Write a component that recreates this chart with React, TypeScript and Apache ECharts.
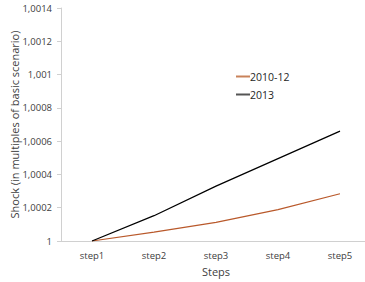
import React, { useEffect, useRef } from "react";
import * as echarts from "echarts";

const categories = ["step1", "step2", "step3", "step4", "step5"];
const series2010 = [1, 1.000054, 1.000112, 1.000188, 1.000284];
const series2013 = [1, 1.000152, 1.00033, 1.000495, 1.00066];
const seriesNames = ["2010-12", "2013"];

const FONT = "'Open Sans', 'Noto Sans', sans-serif";

function fmt(v: number): string {
  const r = Math.round(v * 10000) / 10000;
  return String(r).replace(".", ",");
}

export default function App() {
  const ref = useRef<HTMLDivElement>(null);
  useEffect(() => {
    if (!ref.current) return;
    const chart = echarts.init(ref.current, undefined, { renderer: "svg" });
    chart.setOption({
      animation: false,
      backgroundColor: "#ffffff",
      grid: { left: 61, right: -6, top: 8, bottom: 41, containLabel: false, outerBoundsMode: "none" },
      legend: {
        orient: "vertical",
        left: 231,
        top: 66,
        itemWidth: 14,
        itemHeight: 10,
        itemGap: 7,
        icon: "path://M0,4 L14,4 L14,6 L0,6 Z",
        textStyle: { fontFamily: FONT, fontSize: 10.5, color: "#262626", padding: [0, 0, 0, -5] },
        data: seriesNames,
      },
      xAxis: {
        type: "category",
        data: categories,
        boundaryGap: true,
        name: "Steps",
        nameLocation: "middle",
        nameGap: 25,
        nameMoveOverlap: false,
        nameTextStyle: { fontFamily: FONT, fontSize: 11, color: "#404040" },
        axisLine: { lineStyle: { color: "#d0d0d0", width: 1 } },
        axisTick: { show: false },
        axisLabel: { fontFamily: FONT, fontSize: 9.5, color: "#404040", margin: 9 },
        splitLine: { show: false },
      },
      yAxis: {
        type: "value",
        min: 1,
        max: 1.0014,
        interval: 0.0002,
        name: "Shock (in multiples of basic scenario)",
        nameLocation: "middle",
        nameGap: 41,
        nameMoveOverlap: false,
        nameTextStyle: { fontFamily: FONT, fontSize: 11, color: "#404040" },
        axisLine: { show: true, lineStyle: { color: "#d0d0d0", width: 1 } },
        axisTick: { show: true, length: 4, lineStyle: { color: "#d0d0d0" } },
        axisLabel: { fontFamily: FONT, fontSize: 9.5, color: "#404040", margin: 9, formatter: fmt },
        splitLine: { show: false },
      },
      series: [
        {
          name: seriesNames[0],
          type: "line",
          data: series2010,
          symbol: "none",
          lineStyle: { color: "#B9592B", width: 1.25 },
          itemStyle: { color: "#C9825A" },
        },
        {
          name: seriesNames[1],
          type: "line",
          data: series2013,
          symbol: "none",
          lineStyle: { color: "#000000", width: 1.25 },
          itemStyle: { color: "#555555" },
        },
      ],
    });
    return () => chart.dispose();
  }, []);
  return (
    <div
      ref={ref}
      style={{ position: "absolute", left: 0, top: 0, width: 365, height: 282 }}
    />
  );
}
